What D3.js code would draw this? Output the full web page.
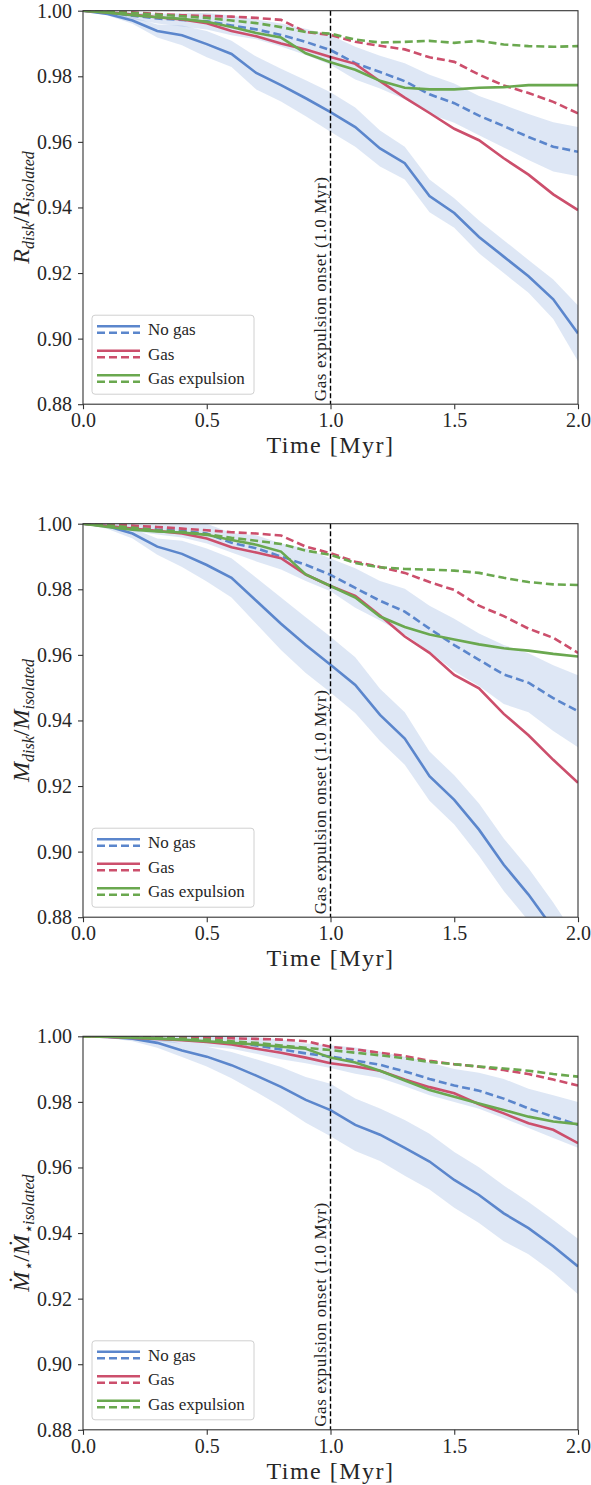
<!DOCTYPE html>
<html><head><meta charset="utf-8">
<script src="https://cdn.jsdelivr.net/npm/d3@7"></script>
<style>body{margin:0;background:#fff}svg{display:block}</style>
</head><body>
<script>
// ---------------- DATA ----------------
const times = [0,0.1,0.2,0.3,0.4,0.5,0.6,0.7,0.8,0.9,1.0,1.1,1.2,1.3,1.4,1.5,1.6,1.7,1.8,1.9,2.0];
const seriesNames = ["No gas","Gas","Gas expulsion"];
const xTicks = [0,0.5,1.0,1.5,2.0];
const yTicks = [0.88,0.90,0.92,0.94,0.96,0.98,1.00];
const onsetTime = 1.0;
const onsetLabel = "Gas expulsion onset (1.0 Myr)";
const xLabel = "Time [Myr]";

// Panel 1: R_disk / R_isolated
const rNoGas      = [1.0,0.9990,0.9970,0.9938,0.9925,0.9898,0.9868,0.9810,0.9773,0.9733,0.9691,0.9645,0.9580,0.9535,0.9435,0.9383,0.9310,0.9250,0.9190,0.9120,0.9016];
const rNoGasSpread= [0,0.0005,0.001,0.002,0.003,0.004,0.004,0.005,0.005,0.0055,0.006,0.006,0.0055,0.005,0.005,0.0045,0.005,0.005,0.005,0.006,0.0085];
const rNoGasD     = [1.0,0.9995,0.9985,0.9976,0.9972,0.9968,0.9955,0.9943,0.9926,0.9905,0.9880,0.9840,0.9813,0.9785,0.9745,0.9718,0.9680,0.9648,0.9615,0.9585,0.9570];
const rNoGasDSpread=[0,0.0005,0.001,0.0015,0.002,0.0025,0.003,0.003,0.0035,0.004,0.0045,0.005,0.005,0.0055,0.006,0.006,0.006,0.0065,0.007,0.0075,0.0075];
const rGas        = [1.0,0.9995,0.9988,0.9980,0.9973,0.9962,0.9938,0.9922,0.9900,0.9882,0.9859,0.9838,0.9785,0.9735,0.9688,0.9640,0.9605,0.9550,0.9500,0.9440,0.9392];
const rGasD       = [1.0,0.9998,0.9995,0.9990,0.9986,0.9984,0.9982,0.9978,0.9972,0.9935,0.9926,0.9905,0.9893,0.9882,0.9858,0.9844,0.9805,0.9772,0.9749,0.9722,0.9687];
const rExp        = [1.0,0.9994,0.9986,0.9980,0.9975,0.9966,0.9950,0.9932,0.9918,0.9870,0.9843,0.9820,0.9786,0.9765,0.9760,0.9760,0.9765,0.9767,0.9773,0.9773,0.9773];
const rExpD       = [1.0,0.9997,0.9993,0.9988,0.9983,0.9978,0.9970,0.9962,0.9950,0.9935,0.9930,0.9912,0.9903,0.9905,0.9908,0.9902,0.9908,0.9897,0.9892,0.9890,0.9892];

// Panel 2: M_disk / M_isolated
const mNoGas      = [1.0,0.9992,0.9970,0.9930,0.9908,0.9874,0.9835,0.9765,0.9695,0.9630,0.9570,0.9508,0.9417,0.9345,0.9230,0.9158,0.9067,0.8960,0.8869,0.8765,0.8650];
const mNoGasSpread= [0,0.0008,0.0015,0.0025,0.004,0.005,0.006,0.007,0.008,0.0085,0.0085,0.0085,0.008,0.008,0.0075,0.0075,0.008,0.008,0.008,0.008,0.008];
const mNoGasD     = [1.0,0.9995,0.9988,0.9982,0.9978,0.9970,0.9942,0.9925,0.9900,0.9875,0.9844,0.9804,0.9765,0.9732,0.9680,0.9630,0.9585,0.9540,0.9515,0.9468,0.9428];
const mNoGasDSpread=[0,0.0005,0.001,0.0015,0.002,0.003,0.003,0.004,0.004,0.005,0.005,0.006,0.006,0.007,0.007,0.008,0.008,0.009,0.009,0.010,0.011];
const mGas        = [1.0,0.9993,0.9985,0.9978,0.9970,0.9955,0.9928,0.9912,0.9895,0.9845,0.9810,0.9780,0.9720,0.9656,0.9606,0.9539,0.9498,0.9420,0.9355,0.9280,0.9210];
const mGasD       = [1.0,0.9998,0.9994,0.9990,0.9985,0.9980,0.9974,0.9970,0.9964,0.9930,0.9910,0.9884,0.9868,0.9850,0.9822,0.9798,0.9750,0.9718,0.9680,0.9652,0.9606];
const mExp        = [1.0,0.9990,0.9982,0.9976,0.9973,0.9966,0.9950,0.9936,0.9915,0.9845,0.9810,0.9775,0.9717,0.9685,0.9662,0.9647,0.9632,0.9620,0.9613,0.9603,0.9595];
const mExpD       = [1.0,0.9995,0.9988,0.9980,0.9975,0.9968,0.9957,0.9948,0.9938,0.9918,0.9905,0.9880,0.9867,0.9862,0.9860,0.9857,0.9850,0.9835,0.9822,0.9815,0.9813];

// Panel 3: Mdot_star / Mdot_star,isolated
const aNoGas      = [1.0,0.9998,0.9993,0.9980,0.9957,0.9938,0.9912,0.9880,0.9846,0.9806,0.9775,0.9730,0.9700,0.9660,0.9618,0.9562,0.9516,0.9460,0.9415,0.9360,0.9298];
const aNoGasSpread= [0,0.0003,0.0008,0.0015,0.002,0.003,0.004,0.005,0.006,0.007,0.008,0.008,0.008,0.0085,0.0085,0.0085,0.0085,0.0085,0.008,0.008,0.0085];
const aNoGasD     = [1.0,0.9999,0.9997,0.9995,0.9992,0.9988,0.9982,0.9972,0.9960,0.9948,0.9938,0.9926,0.9913,0.9893,0.9870,0.9850,0.9834,0.9810,0.9780,0.9755,0.9730];
const aNoGasDSpread=[0,0.0003,0.0005,0.001,0.0015,0.002,0.002,0.0025,0.003,0.003,0.0035,0.004,0.004,0.0045,0.005,0.005,0.0055,0.006,0.006,0.0065,0.007];
const aGas        = [1.0,0.9998,0.9995,0.9992,0.9988,0.9983,0.9975,0.9962,0.9950,0.9935,0.9918,0.9908,0.9895,0.9868,0.9845,0.9826,0.9793,0.9765,0.9735,0.9715,0.9674];
const aGasD       = [1.0,1.0,0.9999,0.9998,0.9997,0.9996,0.9994,0.9992,0.9990,0.9985,0.9968,0.9960,0.9950,0.9940,0.9925,0.9915,0.9907,0.9897,0.9885,0.9868,0.9850];
const aExp        = [1.0,0.9999,0.9996,0.9993,0.9990,0.9985,0.9980,0.9975,0.9968,0.9962,0.9935,0.9920,0.9895,0.9865,0.9836,0.9816,0.9795,0.9775,0.9755,0.9740,0.9732];
const aExpD       = [1.0,0.9999,0.9997,0.9995,0.9993,0.9990,0.9985,0.9980,0.9972,0.9965,0.9958,0.9950,0.9942,0.9933,0.9922,0.9915,0.9908,0.9902,0.9895,0.9885,0.9877];

// ---------------- STYLE / LAYOUT ----------------
const colors = ["#5b86cc","#cc4f6c","#6aa84f"];
const bandColor = "#5b86cc";
const W = 591, H = 1485;
const plotLeft = 83, plotRight = 578, plotH = 393.5;
const panelTops = [10.7, 523.7, 1036.3];
const FONT = "'Liberation Serif','DejaVu Serif',serif";

const panels = [
  {lines:[[rNoGas,rNoGasD],[rGas,rGasD],[rExp,rExpD]], bands:[[rNoGas,rNoGasSpread],[rNoGasD,rNoGasDSpread]], ylab:["R","disk","R","isolated"]},
  {lines:[[mNoGas,mNoGasD],[mGas,mGasD],[mExp,mExpD]], bands:[[mNoGas,mNoGasSpread],[mNoGasD,mNoGasDSpread]], ylab:["M","disk","M","isolated"]},
  {lines:[[aNoGas,aNoGasD],[aGas,aGasD],[aExp,aExpD]], bands:[[aNoGas,aNoGasSpread],[aNoGasD,aNoGasDSpread]], ylab:["M\u0307","\u22c6","M\u0307","\u22c6isolated"]}
];

const svg = d3.select("body").append("svg").attr("width",W).attr("height",H)
  .style("font-family",FONT);

const x = d3.scaleLinear().domain([0,2]).range([plotLeft,plotRight]);

panels.forEach((p,pi)=>{
  const top = panelTops[pi], bottom = top+plotH;
  const y = d3.scaleLinear().domain([0.88,1.0]).range([bottom,top]);
  const g = svg.append("g");
  const clipId = "clip"+pi;
  g.append("clipPath").attr("id",clipId).append("rect")
    .attr("x",plotLeft).attr("y",top).attr("width",plotRight-plotLeft).attr("height",plotH);
  const plot = g.append("g").attr("clip-path",`url(#${clipId})`);

  // bands
  p.bands.forEach(([mid,spr])=>{
    const area = d3.area().x((d,i)=>x(times[i])).y0((d,i)=>y(mid[i]-spr[i])).y1((d,i)=>y(mid[i]+spr[i]));
    plot.append("path").datum(mid).attr("d",area).attr("fill",bandColor).attr("fill-opacity",0.2);
  });
  const line = d3.line().x((d,i)=>x(times[i])).y(d=>y(d));
  p.lines.forEach(([solid,dashed],si)=>{
    plot.append("path").datum(solid).attr("d",line).attr("fill","none")
      .attr("stroke",colors[si]).attr("stroke-width",2.6);
    plot.append("path").datum(dashed).attr("d",line).attr("fill","none")
      .attr("stroke",colors[si]).attr("stroke-width",2.6).attr("stroke-dasharray","8,4");
  });

  // onset line
  g.append("line").attr("x1",x(onsetTime)).attr("x2",x(onsetTime)).attr("y1",top).attr("y2",bottom)
    .attr("stroke","#000").attr("stroke-width",1.4).attr("stroke-dasharray","5,2.5");
  g.append("text").attr("transform",`translate(${x(onsetTime)-5},${bottom-3}) rotate(-90)`)
    .attr("font-size",17).attr("letter-spacing",0.6).attr("fill","#222").text(onsetLabel);

  // axes
  const ya = g.append("g").attr("transform",`translate(${plotLeft},0)`)
    .call(d3.axisLeft(y).tickValues(yTicks).tickFormat(d3.format(".2f")).tickSize(5).tickPadding(6));
  const xa = g.append("g").attr("transform",`translate(0,${bottom})`)
    .call(d3.axisBottom(x).tickValues(xTicks).tickFormat(d3.format(".1f")).tickSize(5).tickPadding(4));
  [ya,xa].forEach(a=>{
    a.select(".domain").remove();
    a.selectAll(".tick line").attr("stroke","#333").attr("stroke-width",1.1);
    a.selectAll(".tick text").attr("font-size",20).attr("fill","#262626").style("font-family",FONT);
  });
  g.append("rect").attr("x",plotLeft).attr("y",top).attr("width",plotRight-plotLeft).attr("height",plotH)
    .attr("fill","none").attr("stroke","#333").attr("stroke-width",1.1);

  // x label
  g.append("text").attr("x",(plotLeft+plotRight)/2).attr("y",bottom+49).attr("text-anchor","middle")
    .attr("font-size",24).attr("letter-spacing",1.5).attr("fill","#262626").text(xLabel);

  // y label
  const yl = g.append("text").attr("transform",`translate(29,${top+plotH/2}) rotate(-90)`)
    .attr("text-anchor","middle").attr("font-size",24).attr("fill","#262626").attr("font-style","italic");
  yl.append("tspan").text(p.ylab[0]);
  yl.append("tspan").attr("font-size",16).attr("dy",5).text(p.ylab[1]);
  yl.append("tspan").attr("dy",-5).attr("font-style","normal").text("/");
  yl.append("tspan").text(p.ylab[2]);
  yl.append("tspan").attr("font-size",16).attr("dy",5).text(p.ylab[3]);

  // legend
  const lgTop = bottom - 10 - 79;
  const lg = g.append("g");
  lg.append("rect").attr("x",92).attr("y",lgTop).attr("width",162).attr("height",79).attr("rx",3)
    .attr("fill","#fff").attr("fill-opacity",0.8).attr("stroke","#d0d0d0").attr("stroke-width",1);
  seriesNames.forEach((n,si)=>{
    const cy = lgTop + 14 + si*24.5;
    lg.append("line").attr("x1",97).attr("x2",140).attr("y1",cy-3).attr("y2",cy-3)
      .attr("stroke",colors[si]).attr("stroke-width",2.6);
    lg.append("line").attr("x1",97).attr("x2",140).attr("y1",cy+3.5).attr("y2",cy+3.5)
      .attr("stroke",colors[si]).attr("stroke-width",2.6).attr("stroke-dasharray","8,4");
    lg.append("text").attr("x",148).attr("y",cy+6).attr("font-size",17).attr("fill","#262626").text(n);
  });
});
</script>
</body></html>
